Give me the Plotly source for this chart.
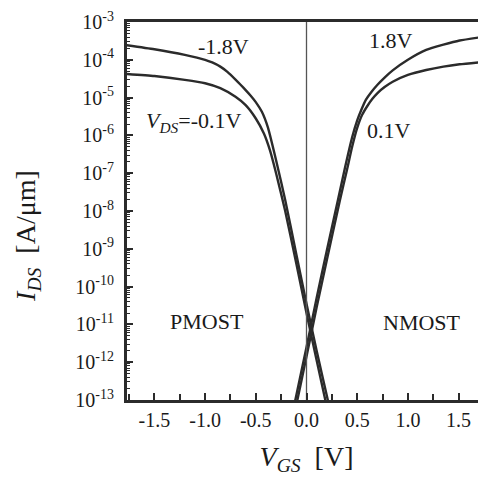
import plotly.graph_objects as go

# ---- data (V_GS in V, I_DS in A/um) ----
vgs_p18 = [-1.8, -1.5, -1.2, -1.0, -0.93, -0.85, -0.78, -0.7, -0.65, -0.6, -0.55, -0.5, -0.44, -0.38, -0.3, -0.21, -0.1, 0.0, 0.1, 0.21, 0.23]
ids_p18 = [2.5e-4, 1.9e-4, 1.35e-4, 1.0e-4, 8.5e-5, 6.6e-5, 4.8e-5, 3.0e-5, 2.19e-5, 1.58e-5, 1.12e-5, 7.6e-6, 4.2e-6, 1.6e-6, 2.2e-7, 1.95e-8, 7.1e-10, 3.5e-11, 2.0e-12, 1.0e-13, 5.6e-14]

vgs_p01 = [-1.8, -1.5, -1.2, -1.0, -0.85, -0.7, -0.6, -0.5, -0.42, -0.36, -0.3, -0.21, -0.1, 0.0, 0.1, 0.21]
ids_p01 = [4.27e-5, 3.72e-5, 2.95e-5, 2.4e-5, 1.78e-5, 1.05e-5, 6.3e-6, 2.8e-6, 1.12e-6, 4.0e-7, 1.0e-7, 1.0e-8, 4.0e-10, 2.0e-11, 1.12e-12, 5.0e-14]

vgs_n18 = [-0.13, -0.11, 0.0, 0.1, 0.2, 0.31, 0.38, 0.45, 0.5, 0.54, 0.585, 0.64, 0.7, 0.77, 0.85, 1.0, 1.18, 1.35, 1.51, 1.8]
ids_n18 = [5.6e-14, 1.0e-13, 2.5e-12, 5.0e-11, 8.9e-10, 1.95e-8, 1.41e-7, 8.9e-7, 2.5e-6, 4.7e-6, 8.7e-6, 1.41e-5, 2.19e-5, 3.39e-5, 5.25e-5, 1.0e-4, 1.82e-4, 2.51e-4, 3.24e-4, 4.27e-4]

vgs_n01 = [-0.11, -0.09, 0.0, 0.1, 0.2, 0.33, 0.4, 0.45, 0.5, 0.55, 0.6, 0.65, 0.7, 0.77, 0.85, 1.0, 1.18, 1.35, 1.51, 1.8]
ids_n01 = [5.6e-14, 1.0e-13, 1.41e-12, 2.82e-11, 5.0e-10, 1.95e-8, 1.26e-7, 5.0e-7, 1.58e-6, 3.55e-6, 6.0e-6, 9.3e-6, 1.32e-5, 1.9e-5, 2.63e-5, 3.98e-5, 5.37e-5, 6.6e-5, 7.6e-5, 9.1e-5]

x_tickvals = [-1.5, -1.0, -0.5, 0.0, 0.5, 1.0, 1.5]
x_ticktext = ["-1.5", "-1.0", "-0.5", "0.0", "0.5", "1.0", "1.5"]
y_exponents = [-13, -12, -11, -10, -9, -8, -7, -6, -5, -4, -3]
y_tickvals = [10.0 ** e for e in y_exponents]
y_ticktext = ["10<sup>%d</sup>" % e for e in y_exponents]

INK = "#2b2b2b"
TXT = "#1a1a1a"
FONT = "Liberation Serif"

fig = go.Figure()
for xs, ys in [(vgs_p18, ids_p18), (vgs_p01, ids_p01), (vgs_n18, ids_n18), (vgs_n01, ids_n01)]:
    fig.add_trace(go.Scatter(x=xs, y=ys, mode="lines",
                             line=dict(color=INK, width=2.4, shape="spline", smoothing=0.5),
                             showlegend=False, hoverinfo="skip"))

# vertical line at V_GS = 0
fig.add_trace(go.Scatter(x=[0, 0], y=[1e-13, 1e-3], mode="lines",
                         line=dict(color="#555555", width=1.3),
                         showlegend=False, hoverinfo="skip"))

labels = [
    (-0.815, -3.66, "-1.8V"),
    (0.835, -3.50, "1.8V"),
    (-1.115, -5.65, "<i>V</i><sub><i>DS</i></sub>=-0.1V"),
    (0.81, -5.86, "0.1V"),
    (-0.98, -10.92, "PMOST"),
    (1.14, -10.94, "NMOST"),
]
for lx, ly, txt in labels:
    fig.add_annotation(x=lx, y=ly, text=txt, showarrow=False,
                       font=dict(family=FONT, size=22, color=TXT),
                       xanchor="center", yanchor="middle")

# y-axis title as annotation
fig.add_annotation(x=0, xref="paper", y=0.434, yref="paper", xshift=-99,
                   text="<i>I</i><sub><i>DS</i></sub>  [A/μm]", textangle=-90,
                   showarrow=False, font=dict(family=FONT, size=28, color=TXT),
                   xanchor="center", yanchor="middle")

minor_y = [m * 10.0 ** e for e in y_exponents[:-1] for m in range(2, 10)]

# the page body has an 8px margin: size the figure so the plot area lands
# at x 127..486, y 22..400 in the 486x484 window
fig.update_layout(
    width=478, height=468,
    margin=dict(l=119, r=0, t=14, b=76, autoexpand=False),
    paper_bgcolor="white", plot_bgcolor="white",
    font=dict(family=FONT, color=TXT),
    xaxis=dict(range=[-1.77, 1.77], tickmode="array", tickvals=x_tickvals, ticktext=x_ticktext,
               ticks="inside", ticklen=7, tickwidth=2, tickcolor=INK,
               minor=dict(dtick=0.25, tick0=0, ticks="inside", ticklen=6, tickwidth=1.5, tickcolor=INK),
               showline=True, linecolor=INK, linewidth=3, mirror=True,
               showgrid=False, zeroline=False, automargin=False,
               tickfont=dict(family=FONT, size=20, color=TXT),
               title=dict(text="<i>V</i><sub><i>GS</i></sub>  [V]", standoff=28,
                          font=dict(family=FONT, size=28, color=TXT))),
    yaxis=dict(type="log", range=[-13, -3], tickmode="array", tickvals=y_tickvals, ticktext=y_ticktext,
               ticks="inside", ticklen=6, tickwidth=2, tickcolor=INK,
               minor=dict(tickmode="array", tickvals=minor_y, ticks="inside", ticklen=3, tickwidth=1.2, tickcolor=INK),
               showline=True, linecolor=INK, linewidth=3, mirror=False,
               showgrid=False, zeroline=False, automargin=False, ticklabelstandoff=6,
               tickfont=dict(family=FONT, size=20, color=TXT)),
)

fig.write_html("out.html")
